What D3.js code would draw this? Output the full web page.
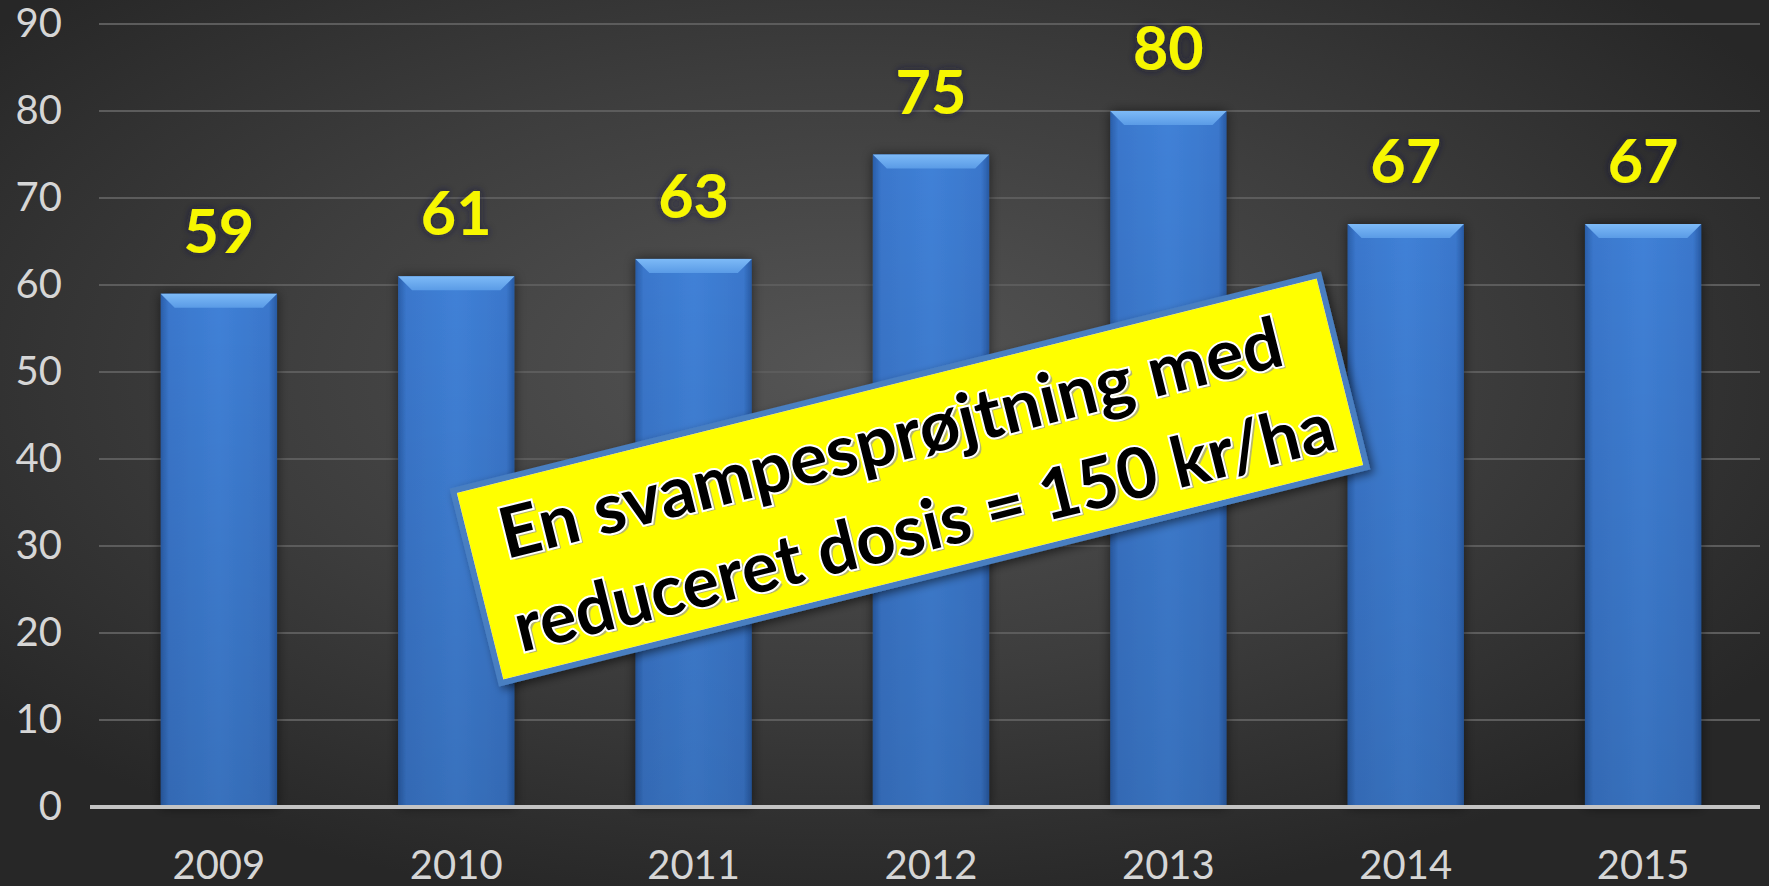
<!DOCTYPE html>
<html>
<head>
<meta charset="utf-8">
<script src="https://cdn.jsdelivr.net/npm/d3@7"></script>
<style>
    html, body { margin: 0; padding: 0; background: #2b2b2b; }
    #chart-area { width: 1769px; height: 886px; }
    text { font-family: Lato, "Open Sans", sans-serif; }
</style>
</head>
<body>
<div id="chart-area"></div>
<script>
// chart data
const years = ["2009", "2010", "2011", "2012", "2013", "2014", "2015"];
const values = [59, 61, 63, 75, 80, 67, 67];
const yTicks = [0, 10, 20, 30, 40, 50, 60, 70, 80, 90];
const noteLines = ["En svampesprøjtning med", "reduceret dosis = 150 kr/ha"];

class BarVis {
    constructor(_parentElement, _years, _values) {
        this.parentElement = _parentElement;
        this.years = _years;
        this.values = _values;

        this.initVis();
    }

    initVis() {
        let vis = this;

        vis.margin = { top: 24, right: 6, bottom: 79, left: 99 };
        vis.width = 1769 - vis.margin.left - vis.margin.right;
        vis.height = 886 - vis.margin.top - vis.margin.bottom;

        vis.root = d3.select("#" + vis.parentElement).append("svg")
            .attr("width", 1769)
            .attr("height", 886);

        let defs = vis.root.append("defs");

        // background glow
        let bg = defs.append("radialGradient")
            .attr("id", "bg-grad")
            .attr("cx", "48%").attr("cy", "42%").attr("r", "62%");
        bg.append("stop").attr("offset", "0%").attr("stop-color", "#555555");
        bg.append("stop").attr("offset", "55%").attr("stop-color", "#3d3d3d");
        bg.append("stop").attr("offset", "100%").attr("stop-color", "#272727");

        // bar fill
        let barGrad = defs.append("linearGradient")
            .attr("id", "bar-grad")
            .attr("x1", "0%").attr("x2", "100%").attr("y1", "0%").attr("y2", "0%");
        barGrad.append("stop").attr("offset", "0%").attr("stop-color", "#2a5ea9");
        barGrad.append("stop").attr("offset", "7%").attr("stop-color", "#3a77cc");
        barGrad.append("stop").attr("offset", "50%").attr("stop-color", "#4081d7");
        barGrad.append("stop").attr("offset", "93%").attr("stop-color", "#3a77cc");
        barGrad.append("stop").attr("offset", "100%").attr("stop-color", "#285aa3");

        let shade = defs.append("linearGradient")
            .attr("id", "bar-shade")
            .attr("x1", "0%").attr("x2", "0%").attr("y1", "0%").attr("y2", "100%");
        shade.append("stop").attr("offset", "0%").attr("stop-color", "#000").attr("stop-opacity", 0);
        shade.append("stop").attr("offset", "100%").attr("stop-color", "#000").attr("stop-opacity", 0.12);

        let bevelGrad = defs.append("linearGradient")
            .attr("id", "bevel-grad")
            .attr("x1", "0%").attr("x2", "0%").attr("y1", "0%").attr("y2", "100%");
        bevelGrad.append("stop").attr("offset", "0%").attr("stop-color", "#7dbaf7");
        bevelGrad.append("stop").attr("offset", "100%").attr("stop-color", "#5a9be6");

        let shadow = defs.append("filter")
            .attr("id", "bar-shadow")
            .attr("x", "-30%").attr("y", "-10%").attr("width", "160%").attr("height", "120%");
        shadow.append("feDropShadow")
            .attr("dx", 0).attr("dy", 0).attr("stdDeviation", 6)
            .attr("flood-color", "#000").attr("flood-opacity", 0.55);

        let glow = defs.append("filter")
            .attr("id", "label-glow")
            .attr("x", "-30%").attr("y", "-30%").attr("width", "160%").attr("height", "160%");
        glow.append("feDropShadow")
            .attr("dx", 0).attr("dy", 0).attr("stdDeviation", 4)
            .attr("flood-color", "#1a1a3a").attr("flood-opacity", 0.8);

        let boxShadow = defs.append("filter")
            .attr("id", "box-shadow")
            .attr("x", "-10%").attr("y", "-20%").attr("width", "120%").attr("height", "140%");
        boxShadow.append("feDropShadow")
            .attr("dx", 3).attr("dy", 4).attr("stdDeviation", 4)
            .attr("flood-color", "#000").attr("flood-opacity", 0.5);

        vis.root.append("rect")
            .attr("width", 1769)
            .attr("height", 886)
            .attr("fill", "url(#bg-grad)");

        vis.svg = vis.root.append("g")
            .attr("transform", "translate(" + vis.margin.left + "," + vis.margin.top + ")");

        // Scales and Axes
        vis.x = d3.scaleBand()
            .domain(vis.years)
            .range([0, vis.width])
            .paddingInner(0.51)
            .paddingOuter(0.26);

        vis.y = d3.scaleLinear()
            .domain([0, 90])
            .range([vis.height, 0]);

        vis.yAxis = d3.axisLeft(vis.y)
            .tickValues(yTicks)
            .tickSize(0)
            .tickPadding(37);

        vis.xAxis = d3.axisBottom(vis.x)
            .tickSize(0)
            .tickPadding(44);

        // gridlines
        vis.svg.append("g")
            .attr("class", "grid")
            .selectAll("line")
            .data(yTicks.filter(d => d > 0))
            .enter().append("line")
            .attr("x1", 0).attr("x2", vis.width - 3)
            .attr("y1", d => vis.y(d)).attr("y2", d => vis.y(d))
            .attr("stroke", "#5c5c5c")
            .attr("stroke-width", 2);

        vis.svg.append("g")
            .attr("class", "y-axis axis")
            .call(vis.yAxis)
            .call(g => g.select(".domain").remove())
            .selectAll("text")
            .attr("font-size", 40)
            .attr("fill", "#d6d6d6")
            .attr("font-family", "Lato, sans-serif");

        vis.svg.append("g")
            .attr("class", "x-axis axis")
            .attr("transform", "translate(0," + vis.height + ")")
            .call(vis.xAxis)
            .call(g => g.select(".domain").remove())
            .selectAll("text")
            .attr("font-size", 40)
            .attr("fill", "#d6d6d6")
            .attr("font-family", "Lato, sans-serif");

        vis.updateVis();
    }

    updateVis() {
        let vis = this;
        let bw = vis.x.bandwidth();
        let bevel = 14;

        let bars = vis.svg.append("g").attr("class", "bars")
            .selectAll("g")
            .data(vis.years.map((d, i) => ({ year: d, value: vis.values[i] })))
            .enter().append("g")
            .attr("transform", d => "translate(" + vis.x(d.year) + ",0)");

        bars.append("rect")
            .attr("x", 0)
            .attr("y", d => vis.y(d.value))
            .attr("width", bw)
            .attr("height", d => vis.height - vis.y(d.value))
            .attr("fill", "url(#bar-grad)")
            .attr("filter", "url(#bar-shadow)");

        bars.append("rect")
            .attr("x", 0)
            .attr("y", d => vis.y(d.value))
            .attr("width", bw)
            .attr("height", d => vis.height - vis.y(d.value))
            .attr("fill", "url(#bar-shade)");

        // bevelled top edge
        bars.append("path")
            .attr("d", d => {
                let t = vis.y(d.value);
                return "M0," + t + "L" + bw + "," + t + "L" + (bw - bevel) + "," + (t + bevel)
                    + "L" + bevel + "," + (t + bevel) + "Z";
            })
            .attr("fill", "url(#bevel-grad)");

        // value labels
        bars.append("text")
            .attr("x", bw / 2)
            .attr("y", d => vis.y(d.value) - 41)
            .attr("text-anchor", "middle")
            .attr("font-size", 61)
            .attr("font-weight", "bold")
            .attr("fill", "#f7f700")
            .attr("filter", "url(#label-glow)")
            .text(d => d.value);

        // baseline
        vis.svg.append("line")
            .attr("x1", -9).attr("x2", vis.width - 3)
            .attr("y1", vis.y(0)).attr("y2", vis.y(0))
            .attr("stroke", "#c4c4c4")
            .attr("stroke-width", 4);

        vis.drawNote();
    }

    drawNote() {
        let vis = this;

        let note = vis.root.append("g")
            .attr("transform", "translate(910,479) rotate(-14)");

        note.append("rect")
            .attr("x", -446).attr("y", -99)
            .attr("width", 892).attr("height", 198)
            .attr("fill", "#ffff00")
            .attr("stroke", "#4a7fc1")
            .attr("stroke-width", 6)
            .attr("filter", "url(#box-shadow)");

        let rows = [
            { text: noteLines[0], y: -20, x: -411, w: 804 },
            { text: noteLines[1], y: 74, x: -419, w: 842 }
        ];

        // taller, narrower letters like the original; squeeze each line to its width
        let size = 70;

        rows.forEach(r => {
            let probe = note.append("text")
                .attr("font-size", size)
                .attr("font-weight", "bold")
                .text(r.text);
            let sx = r.w / probe.node().getComputedTextLength();
            probe.remove();

            let line = note.append("g")
                .attr("transform", "translate(" + r.x + "," + r.y + ") scale(" + sx + ",1)");

            line.append("text")
                .attr("x", 3).attr("y", 3)
                .attr("font-size", size)
                .attr("font-weight", "bold")
                .attr("fill", "#9a9a9a")
                .attr("opacity", 0.7)
                .text(r.text);
            line.append("text")
                .attr("x", 0).attr("y", 0)
                .attr("font-size", size)
                .attr("font-weight", "bold")
                .attr("fill", "#000")
                .attr("stroke", "#ffffff")
                .attr("stroke-width", 4)
                .attr("paint-order", "stroke")
                .text(r.text);
        });
    }
}

new BarVis("chart-area", years, values);
</script>
</body>
</html>
